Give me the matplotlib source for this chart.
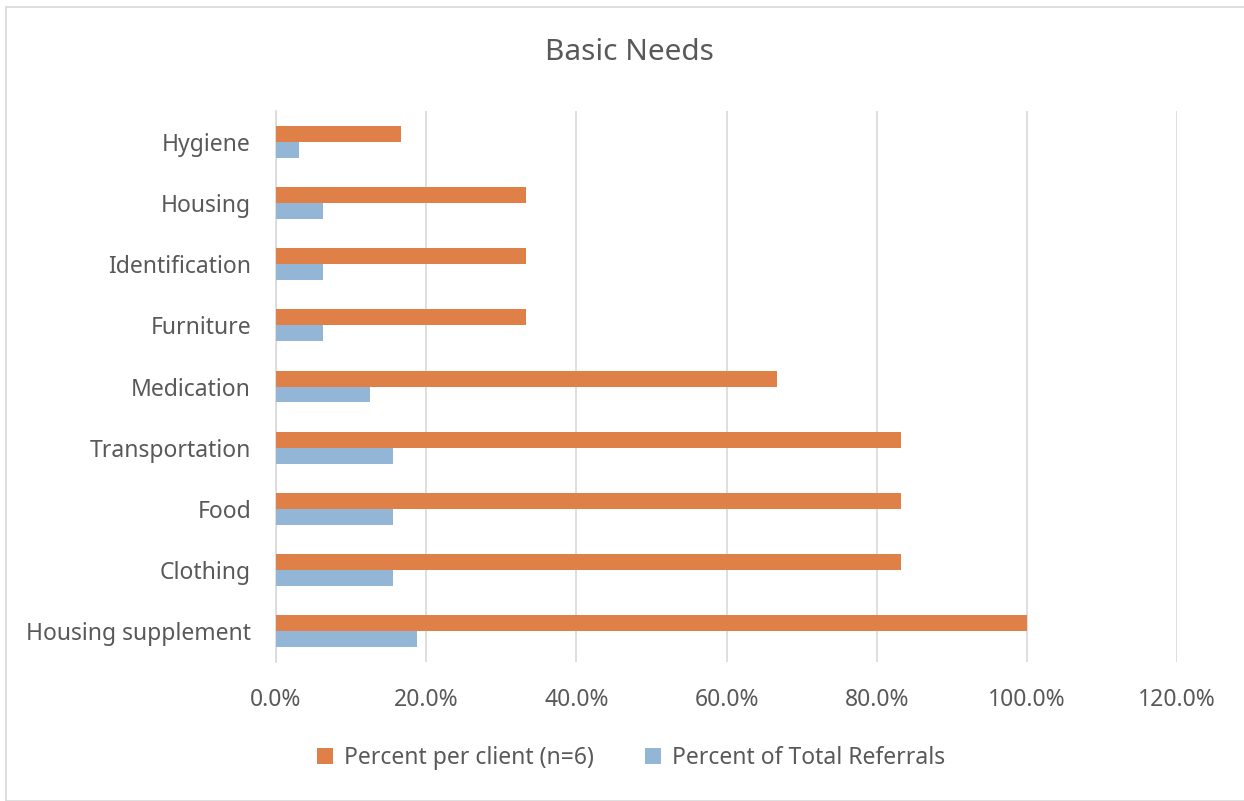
"""Basic Needs referrals: share per client vs share of all referrals."""
import matplotlib

matplotlib.use("Agg")
import matplotlib.pyplot as plt  # noqa: E402
from matplotlib.patches import Rectangle  # noqa: E402
from matplotlib.ticker import FuncFormatter  # noqa: E402

categories = ["Housing supplement", "Clothing", "Food", "Transportation",
              "Medication", "Furniture", "Identification", "Housing", "Hygiene"]
per_client = [100.0, 83.3, 83.3, 83.3, 66.7, 33.3, 33.3, 33.3, 16.7]
of_total = [18.75, 15.6, 15.6, 15.6, 12.5, 6.25, 6.25, 6.25, 3.1]
xticks = [0, 20, 40, 60, 80, 100, 120]

ORANGE = "#DE8048"
BLUE = "#93B5D6"
TEXT = "#595959"
GRID = "#D9D9D9"

plt.rcParams["font.family"] = ["Noto Sans", "DejaVu Sans"]

fig = plt.figure(figsize=(12.44, 8.01), dpi=100)
fig.patches.append(Rectangle((6 / 1244, 0), 1, 1 - 7 / 801, transform=fig.transFigure,
                             fill=False, edgecolor=GRID, lw=1.2))
ax = fig.add_axes([276 / 1244, 1 - 662 / 801, 901 / 1244, 551 / 801])

h = 0.26
ys = list(range(len(categories)))
ax.barh([y + h / 2 for y in ys], per_client, height=h, color=ORANGE,
        label="Percent per client (n=6)", zorder=3)
ax.barh([y - h / 2 for y in ys], of_total, height=h, color=BLUE,
        label="Percent of Total Referrals", zorder=3)

ax.set_xlim(0, 120)
ax.set_ylim(-0.5, len(categories) - 0.5)
ax.set_xticks(xticks)
ax.xaxis.set_major_formatter(FuncFormatter(lambda v, _: f"{v:.1f}%"))
ax.set_yticks(ys)
ax.set_yticklabels(categories)
ax.tick_params(length=0, labelsize=16.5, colors=TEXT)
ax.tick_params(axis="x", pad=19)
ax.tick_params(axis="y", pad=18)
ax.grid(axis="x", color=GRID, lw=1.2, zorder=0)
for side in ["top", "right", "bottom"]:
    ax.spines[side].set_visible(False)
ax.spines["left"].set_color(GRID)
ax.spines["left"].set_linewidth(1.2)

fig.text(629 / 1244, 1 - 52 / 801, "Basic Needs", ha="center", va="center",
         fontsize=21.5, color=TEXT)
fig.legend(loc="center", bbox_to_anchor=(631 / 1244, 1 - 758 / 801), ncol=2,
           frameon=False, fontsize=16.5, labelcolor=TEXT, handlelength=0.7,
           handleheight=0.7, handletextpad=0.5, columnspacing=2.2)

fig.savefig("out.png", dpi=100)
